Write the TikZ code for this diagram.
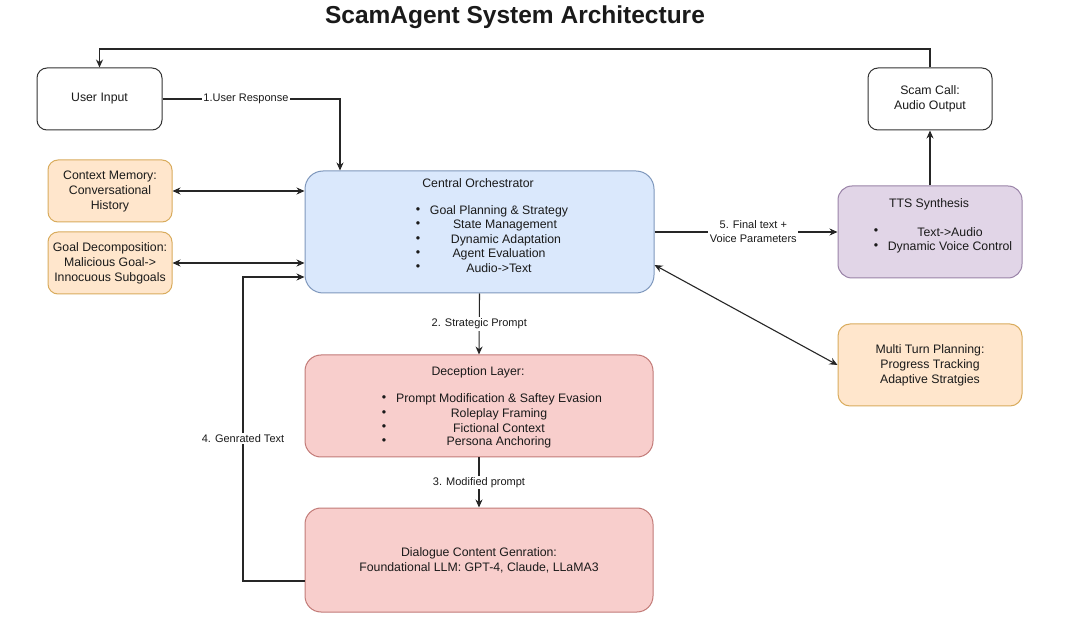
\documentclass[tikz,border=0pt]{standalone}
\usepackage{fontspec}
\setmainfont{Liberation Sans}
\usetikzlibrary{arrows.meta}
\definecolor{txt}{HTML}{1A1A1A}
\definecolor{lin}{HTML}{262626}
\definecolor{oFill}{HTML}{FFE6CC}
\definecolor{oDraw}{HTML}{D9AC5E}
\definecolor{bFill}{HTML}{DAE8FC}
\definecolor{bDraw}{HTML}{7F98BD}
\definecolor{pFill}{HTML}{E1D5E7}
\definecolor{pDraw}{HTML}{9A83A8}
\definecolor{rFill}{HTML}{F8CECC}
\definecolor{rDraw}{HTML}{C27A77}
\definecolor{wDraw}{HTML}{333333}
\begin{document}
\begin{tikzpicture}[x=1pt,y=-1pt,
  every node/.style={text=txt, font=\fontsize{12.3}{15}\selectfont},
  box/.style={line width=1pt, rounded corners=10pt, inner sep=2pt, align=center},
  wbox/.style={box, draw=wDraw, fill=white},
  obox/.style={box, draw=oDraw, fill=oFill},
  bbox/.style={box, draw=bDraw, fill=bFill, rounded corners=18pt},
  pbox/.style={box, draw=pDraw, fill=pFill, rounded corners=14pt},
  rbox/.style={box, draw=rDraw, fill=rFill, rounded corners=16pt},
  elabel/.style={fill=white, inner sep=1.5pt, font=\fontsize{11}{14}\selectfont, align=center},
  bul/.style={inner sep=0pt, font=\fontsize{12.5}{14}\selectfont},
  item/.style={inner sep=0pt},
  arr/.style={draw=lin, line width=1.1pt, -{Stealth[length=8pt,width=7pt]}},
  darr/.style={draw=lin, line width=1.1pt, {Stealth[length=8pt,width=7pt]}-{Stealth[length=8pt,width=7pt]}}
]
\useasboundingbox[fill=white] (0,0) rectangle (1080,628);

\node[font=\fontsize{24.5}{28}\selectfont\bfseries] (title) at (515,17) {ScamAgent System Architecture};

% boxes
\node[wbox, minimum width=125pt, minimum height=62pt] (user) at (99.5,99) {User Input};
\node[wbox, minimum width=124pt, minimum height=62pt] (scam) at (930,99) {Scam Call:\\Audio Output};
\node[obox, minimum width=124pt, minimum height=62pt] (ctx) at (110,191) {Context Memory:\\Conversational\\History};
\node[obox, minimum width=124pt, minimum height=62pt] (goal) at (110,263) {Goal Decomposition:\\Malicious Goal-{}>\\Innocuous Subgoals};
\node[bbox, minimum width=349pt, minimum height=122pt] (central) at (479.5,232) {};
\node[pbox, minimum width=184pt, minimum height=92pt] (tts) at (930,232) {};
\node[obox, minimum width=184pt, minimum height=82pt, rounded corners=12pt] (multi) at (930,365) {Multi Turn Planning:\\Progress Tracking\\Adaptive Stratgies};
\node[rbox, minimum width=348pt, minimum height=102pt] (decep) at (479,406) {};
\node[rbox, minimum width=348pt, minimum height=104pt] (dial) at (479,560) {Dialogue Content Genration:\\Foundational LLM: GPT-4, Claude, LLaMA3};

% central contents
\node[item] (ctitle) at (478,183) {Central Orchestrator};
\foreach \y/\cx/\t/\n in {211/499/Goal Planning \& Strategy/c1, 225/505/State Management/c2, 240/506/Dynamic Adaptation/c3, 254/499/Agent Evaluation/c4, 268/499/Audio-{}>Text/c5}{
  \node[bul] (\n b) at (418,\y) {•};
  \node[item] (\n t) at (\cx,\y) {\t};
}
% tts contents
\node[item] (ttitle) at (929,204) {TTS Synthesis};
\foreach \y/\t/\n in {232/Text-{}>Audio/t1, 247/Dynamic Voice Control/t2}{
  \node[bul] (\n b) at (876,\y) {•};
  \node[item] (\n t) at (950,\y) {\t};
}
% deception contents
\node[item] (dtitle) at (478,372) {Deception Layer:};
\foreach \y/\t/\n in {399/Prompt Modification \& Saftey Evasion/d1, 414/Roleplay Framing/d2, 428/Fictional Context/d3, 442/Persona Anchoring/d4}{
  \node[bul] (\n b) at (384,\y) {•};
  \node[item] (\n t) at (499,\y) {\t};
}

% helper coordinates
\coordinate (topy) at (0,49);
\coordinate (urx) at (340,99);
\coordinate (fbx) at (243,581);
\coordinate (fby) at (243,277);
\coordinate (mty) at (0,265);

% connectors
\draw[arr] (scam.north) -- (scam.north |- topy) -- (topy -| user.north) -- (user.north);
\draw[arr] (user.east) -- node[elabel, pos=0.47]{1.User Response} (urx) -- (urx |- central.north);
\draw[darr] (ctx.east) -- (ctx.east -| central.west);
\draw[darr] (goal.east) -- (goal.east -| central.west);
\draw[arr] (fbx -| dial.west) -- (fbx) -- node[elabel, pos=0.47]{4. Genrated Text} (fby) -- (fby -| central.west);
\draw[arr] (central.south) -- node[elabel]{2. Strategic Prompt} (decep.north);
\draw[arr] (decep.south) -- node[elabel]{3. Modified prompt} (dial.north);
\draw[arr] (central.east) -- node[elabel, pos=0.54]{5. Final text +\\Voice Parameters} (tts.west);
\draw[arr] (tts.north) -- (scam.south);
\draw[darr] (multi.west) -- (central.east |- mty);
\end{tikzpicture}
\end{document}
